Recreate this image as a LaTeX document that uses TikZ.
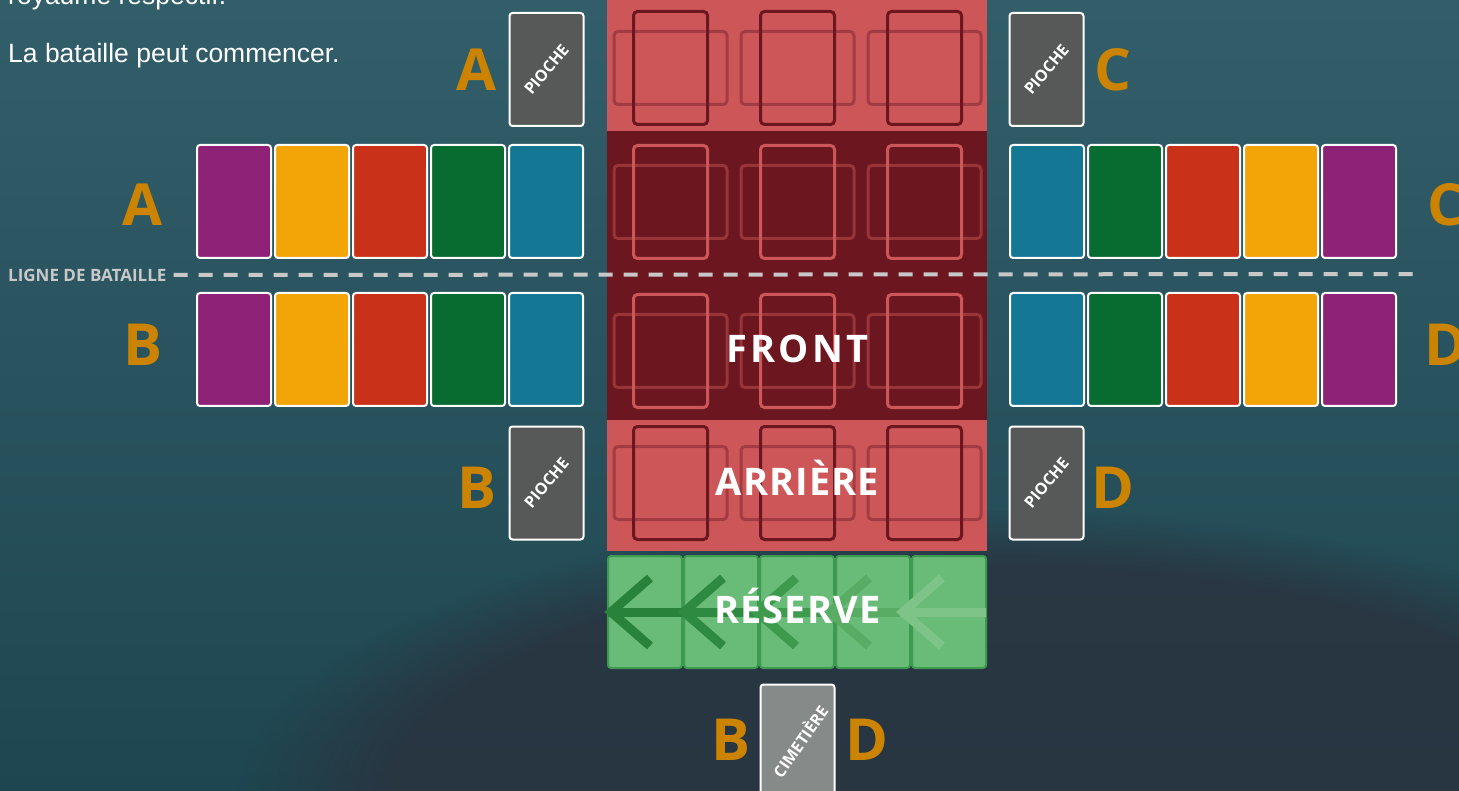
\documentclass[tikz,border=0pt]{standalone}
\usepackage{fontspec}
\setmainfont{Liberation Sans}
\setsansfont{Open Sans}
\usetikzlibrary{fadings}

\definecolor{fond}{RGB}{50,94,106}
\definecolor{fondbas}{RGB}{30,70,80}
\definecolor{tache}{RGB}{42,50,62}
\definecolor{rougeclair}{RGB}{205,87,88}
\definecolor{rougefonce}{RGB}{108,22,31}
\definecolor{rougemoyen}{RGB}{162,60,66}
\definecolor{rougesombre}{RGB}{152,53,57}
\definecolor{vertres}{RGB}{105,187,120}
\definecolor{vertbord}{RGB}{62,154,80}
\definecolor{fl1}{RGB}{40,130,58}
\definecolor{fl2}{RGB}{46,138,64}
\definecolor{fl3}{RGB}{62,155,78}
\definecolor{fl4}{RGB}{88,172,100}
\definecolor{fl5}{RGB}{126,196,137}
\definecolor{cviolet}{RGB}{142,34,119}
\definecolor{cjaune}{RGB}{243,165,8}
\definecolor{crouge}{RGB}{201,49,24}
\definecolor{cvert}{RGB}{8,107,48}
\definecolor{cbleu}{RGB}{20,120,149}
\definecolor{gris}{RGB}{87,88,88}
\definecolor{grisclair}{RGB}{134,138,137}
\definecolor{lettre}{RGB}{204,132,0}
\definecolor{pointille}{RGB}{200,200,200}

\begin{document}
\begin{tikzpicture}[
    x=1pt, y=-1pt,
    carte/.style={draw=white, line width=2pt, rounded corners=3pt, minimum width=74pt, minimum height=113pt, inner sep=0pt},
    diag/.style={text=white, font=\sffamily\bfseries\fontsize{16}{16}\selectfont, rotate=50, inner sep=0pt},
    lettre/.style={text=lettre, font=\sffamily\bfseries\fontsize{58}{58}\selectfont, inner sep=0pt},
    zone/.style={text=white, font=\sffamily\bfseries\fontsize{38}{38}\selectfont, inner sep=0pt, anchor=base},
    debout/.style={line width=3pt, rounded corners=4pt, minimum width=74pt, minimum height=113pt, inner sep=0pt},
    couche/.style={line width=3pt, rounded corners=4pt, minimum width=113pt, minimum height=73pt, inner sep=0pt},
    caseres/.style={fill=vertres, draw=vertbord, line width=2pt, rounded corners=3pt, minimum width=74pt, minimum height=112pt, inner sep=0pt},
    fleche/.style={line width=9pt}
]
    \clip (0,0) rectangle (1459,791);
    \fill[top color=fond, bottom color=fondbas] (0,0) rectangle (1459,791);
    \fill[tache, opacity=0.8, path fading=circle with fuzzy edge 20 percent] (1000,800) ellipse [x radius=760pt, y radius=290pt];

    \node[anchor=base west, text=white, font=\fontsize{26.5}{26.5}\selectfont, inner sep=0pt] (txt1) at (8,5) {royaume respectif.};
    \node[anchor=base west, text=white, font=\fontsize{26.5}{26.5}\selectfont, inner sep=0pt] (txt2) at (8,63) {La bataille peut commencer.};

    \fill[rougeclair] (607,-5) rectangle (987,131);
    \fill[rougefonce] (607,131) rectangle (987,420);
    \fill[rougeclair] (607,420) rectangle (987,551);

    \foreach \y/\ch/\cv [count=\j] in {68/rougemoyen/rougefonce, 202/rougesombre/rougeclair, 351/rougesombre/rougeclair, 483/rougemoyen/rougefonce} {
        \foreach \x [count=\i] in {670.5, 797.5, 924.5} {
            \node[couche, draw=\ch] (h\j\i) at (\x,\y) {};
            \node[debout, draw=\cv] (v\j\i) at (\x,\y) {};
        }
    }

    \foreach \x [count=\i] in {645, 721, 797, 873, 949}
        \node[caseres] (r\i) at (\x,612) {};

    \foreach \t/\f/\c in {608/683/fl1, 681/756/fl2, 754/829/fl3, 827/902/fl4, 900/986/fl5} {
        \draw[fleche, \c] (\t,612) -- (\f,612);
        \draw[fleche, \c] (\t+42,578) -- (\t+3,612) -- (\t+42,646);
    }

    \node[zone] (front) at (797.5,363) {\addfontfeature{LetterSpace=8}FRONT};
    \node[zone] (arriere) at (797.5,495) {\addfontfeature{LetterSpace=3}ARRIÈRE};
    \node[zone] (reserve) at (797.5,623) {\addfontfeature{LetterSpace=3}RÉSERVE};

    \foreach \c [count=\i] in {cviolet, cjaune, crouge, cvert, cbleu} {
        \node[carte, fill=\c] (a\i) at (156+78*\i,201.5) {};
        \node[carte, fill=\c] (b\i) at (156+78*\i,349.5) {};
    }
    \foreach \c [count=\i] in {cbleu, cvert, crouge, cjaune, cviolet} {
        \node[carte, fill=\c] (c\i) at (969+78*\i,201.5) {};
        \node[carte, fill=\c] (d\i) at (969+78*\i,349.5) {};
    }

    \node[carte, fill=gris] (piocheA) at (546.5,69.5) {};
    \node[carte, fill=gris] (piocheB) at (546.5,483) {};
    \node[carte, fill=gris] (piocheC) at (1046.5,69.5) {};
    \node[carte, fill=gris] (piocheD) at (1046.5,483) {};
    \node[carte, fill=grisclair] (cimetiere) at (797.5,741) {};

    \node[diag] (tA) at (piocheA) {PIOCHE};
    \node[diag] (tB) at (piocheB) {PIOCHE};
    \node[diag] (tC) at (piocheC) {PIOCHE};
    \node[diag] (tD) at (piocheD) {PIOCHE};
    \node[diag, rotate=5] (tCim) at ([xshift=2pt]cimetiere) {CIMETIÈRE};

    \node[lettre] (lA) at (477,70) {A};
    \node[lettre] (lC) at (1113,70) {C};
    \node[lettre] (rowA) at (143,205) {A};
    \node[lettre] (rowB) at (143,345) {B};
    \node[lettre] (rowC) at (1446,205) {C};
    \node[lettre] (rowD) at (1446,345) {D};
    \node[lettre] (lB) at (477,488) {B};
    \node[lettre] (lD) at (1113,488) {D};
    \node[lettre] (cimB) at (731,740) {B};
    \node[lettre] (cimD) at (867,740) {D};

    \node[anchor=west, text=pointille, font=\sffamily\bfseries\fontsize{17}{17}\selectfont, inner sep=0pt] (ligne) at (8,275) {LIGNE DE BATAILLE};
    \coordinate (finLigne) at (1415,274);
    \draw[pointille, line width=4pt, dash pattern=on 14pt off 11pt] ([xshift=7pt]ligne.east) -- (finLigne);
\end{tikzpicture}
\end{document}
